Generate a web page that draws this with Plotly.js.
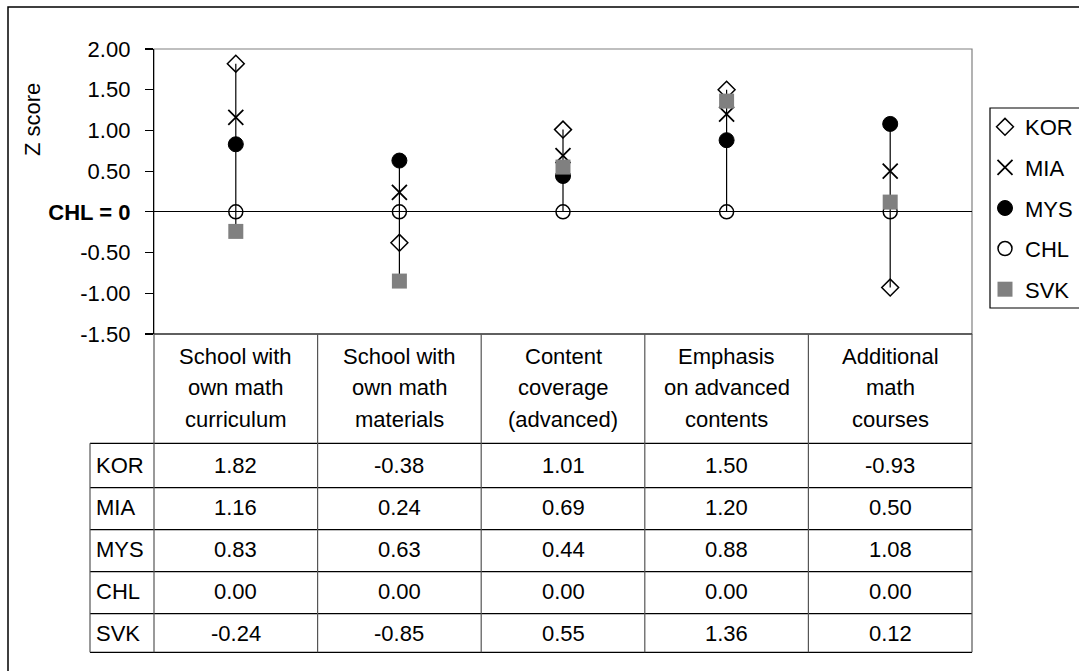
<!DOCTYPE html>
<html>
<head>
<meta charset="utf-8">
<script src="https://cdn.plot.ly/plotly-3.0.1.min.js"></script>
<style>html,body{margin:0;padding:0;background:#fff;}#chart{width:1079px;height:671px;}</style>
</head>
<body>
<div id="chart"></div>
<script>
// ---- data ----
const categories = [
  "School with<br>own math<br>curriculum",
  "School with<br>own math<br>materials",
  "Content<br>coverage<br>(advanced)",
  "Emphasis<br>on advanced<br>contents",
  "Additional<br>math<br>courses"
];
const countries = ["KOR", "MIA", "MYS", "CHL", "SVK"];
const KOR = [1.82, -0.38, 1.01, 1.50, -0.93];
const MIA = [1.16, 0.24, 0.69, 1.20, 0.50];
const MYS = [0.83, 0.63, 0.44, 0.88, 1.08];
const CHL = [0.00, 0.00, 0.00, 0.00, 0.00];
const SVK = [-0.24, -0.85, 0.55, 1.36, 0.12];
const yTickVals = [-1.5, -1, -0.5, 0, 0.5, 1, 1.5, 2];
const yTickText = ["-1.50", "-1.00", "-0.50", "<b>CHL = 0</b>", "0.50", "1.00", "1.50", "2.00"];

// ---- layout helpers ----
const W = 1079, H = 671;
const px = x => x / W;
const py = y => 1 - y / H;
const FONT = "Liberation Sans, Arial, sans-serif";
const FS = 22;

const series = {KOR, MIA, MYS, CHL, SVK};
const styles = {
  KOR: {symbol: "diamond-open", size: 13, color: "#000", line: {color: "#000", width: 1.5}},
  MIA: {symbol: "x-thin-open", size: 15, color: "#000", line: {color: "#000", width: 1.8}},
  MYS: {symbol: "circle", size: 15, color: "#000", line: {color: "#000", width: 1}},
  CHL: {symbol: "circle-open", size: 14, color: "#000", line: {color: "#000", width: 1.5}},
  SVK: {symbol: "square", size: 15, color: "#808080", line: {color: "#808080", width: 0}}
};

// high-low lines (built from the series)
const hlX = [], hlY = [];
categories.forEach((c, i) => {
  const vals = countries.map(k => series[k][i]);
  hlX.push(c, c, null);
  hlY.push(Math.min(...vals), Math.max(...vals), null);
});

const traces = [{
  x: hlX, y: hlY, type: "scatter", mode: "lines",
  line: {color: "#000", width: 1.2}, showlegend: false, hoverinfo: "skip"
}];
countries.forEach(k => {
  traces.push({
    x: categories, y: series[k], type: "scatter", mode: "markers", name: k,
    legendgroup: k,
    marker: styles[k]
  });
});

// ---- table geometry ----
const colEdges = [154, 317.6, 481.2, 644.8, 808.4, 972];
const rowLines = [443.3, 487.7, 529.7, 571.7, 613.7, 652.3];
const rowCenters = [465, 507, 549, 591, 633];
const headerLineY = [356, 387.5, 419];
const tableTop = 334;
const rowHeadLeft = 90;

const shapes = [];
const annotations = [];
// outer border
shapes.push({type: "rect", xref: "paper", yref: "paper", x0: px(8), x1: px(1100), y0: py(7), y1: py(700),
  line: {color: "#000", width: 1.5}, layer: "below"});
// plot area border (gray)
shapes.push({type: "rect", xref: "paper", yref: "paper", x0: px(154), x1: px(972), y0: py(334), y1: py(49),
  line: {color: "#808080", width: 1.2}, layer: "below"});
// legend box
shapes.push({type: "rect", xref: "paper", yref: "paper", x0: px(990), x1: px(1110), y0: py(308), y1: py(108),
  line: {color: "#000", width: 1.2}, fillcolor: "#fff", layer: "below"});
// table horizontal lines
rowLines.forEach(y => shapes.push({type: "line", xref: "paper", yref: "paper",
  x0: px(rowHeadLeft), x1: px(972), y0: py(y), y1: py(y), line: {color: "#000", width: 1.2}}));
// x-axis / table top line
shapes.push({type: "line", xref: "paper", yref: "paper", x0: px(154), x1: px(972), y0: py(tableTop), y1: py(tableTop),
  line: {color: "#000", width: 1.2}});
// column vertical lines
colEdges.forEach(x => shapes.push({type: "line", xref: "paper", yref: "paper",
  x0: px(x), x1: px(x), y0: py(tableTop), y1: py(rowLines[rowLines.length - 1]), line: {color: "#555", width: 1.2}}));
// row header left edge
shapes.push({type: "line", xref: "paper", yref: "paper", x0: px(rowHeadLeft), x1: px(rowHeadLeft),
  y0: py(rowLines[0]), y1: py(rowLines[rowLines.length - 1]), line: {color: "#555", width: 1.2}});

// header texts
categories.forEach((c, i) => {
  const cx = (colEdges[i] + colEdges[i + 1]) / 2;
  c.split("<br>").forEach((line, j) => {
    annotations.push({xref: "paper", yref: "paper", x: px(cx), y: py(headerLineY[j]), text: line,
      showarrow: false, xanchor: "center", yanchor: "middle", font: {family: FONT, size: FS, color: "#000"}});
  });
});
// row texts
countries.forEach((k, r) => {
  annotations.push({xref: "paper", yref: "paper", x: px(94), y: py(rowCenters[r]), text: k,
    showarrow: false, xanchor: "left", yanchor: "middle", font: {family: FONT, size: FS, color: "#000"}});
  series[k].forEach((v, i) => {
    const cx = (colEdges[i] + colEdges[i + 1]) / 2;
    annotations.push({xref: "paper", yref: "paper", x: px(cx), y: py(rowCenters[r]), text: v.toFixed(2),
      showarrow: false, xanchor: "center", yanchor: "middle", font: {family: FONT, size: FS, color: "#000"}});
  });
});
// y title
annotations.push({xref: "paper", yref: "paper", x: px(32), y: py(120), text: "Z score", textangle: -90,
  showarrow: false, xanchor: "center", yanchor: "middle", font: {family: FONT, size: FS, color: "#000"}});

const layout = {
  width: W, height: H,
  margin: {l: 0, r: 0, t: 0, b: 0},
  paper_bgcolor: "#fff", plot_bgcolor: "rgba(0,0,0,0)",
  font: {family: FONT, size: FS, color: "#000"},
  xaxis: {
    domain: [px(154), px(972)], type: "category", categoryarray: categories,
    range: [-0.5, 4.5], showticklabels: false, ticks: "", showgrid: false, zeroline: false,
    showline: false, fixedrange: true
  },
  yaxis: {
    domain: [py(334), py(49)], range: [-1.5, 2.0], tickvals: yTickVals, ticktext: yTickText,
    ticks: "outside", ticklen: 8, tickwidth: 1.2, tickcolor: "#000",
    showline: true, linecolor: "#000", linewidth: 1.2, showgrid: false,
    zeroline: true, zerolinecolor: "#000", zerolinewidth: 1.2,
    ticklabelstandoff: 10,
    tickfont: {family: FONT, size: FS, color: "#000"}, fixedrange: true
  },
  showlegend: true,
  legend: {
    x: px(985), y: py(106), xanchor: "left", yanchor: "top",
    bgcolor: "rgba(0,0,0,0)", borderwidth: 0, traceorder: "grouped", tracegroupgap: 9,
    font: {family: FONT, size: FS, color: "#000"}, itemsizing: "trace"
  },
  shapes: shapes,
  annotations: annotations
};

Plotly.newPlot("chart", traces, layout, {displayModeBar: false, staticPlot: true});
</script>
</body>
</html>
